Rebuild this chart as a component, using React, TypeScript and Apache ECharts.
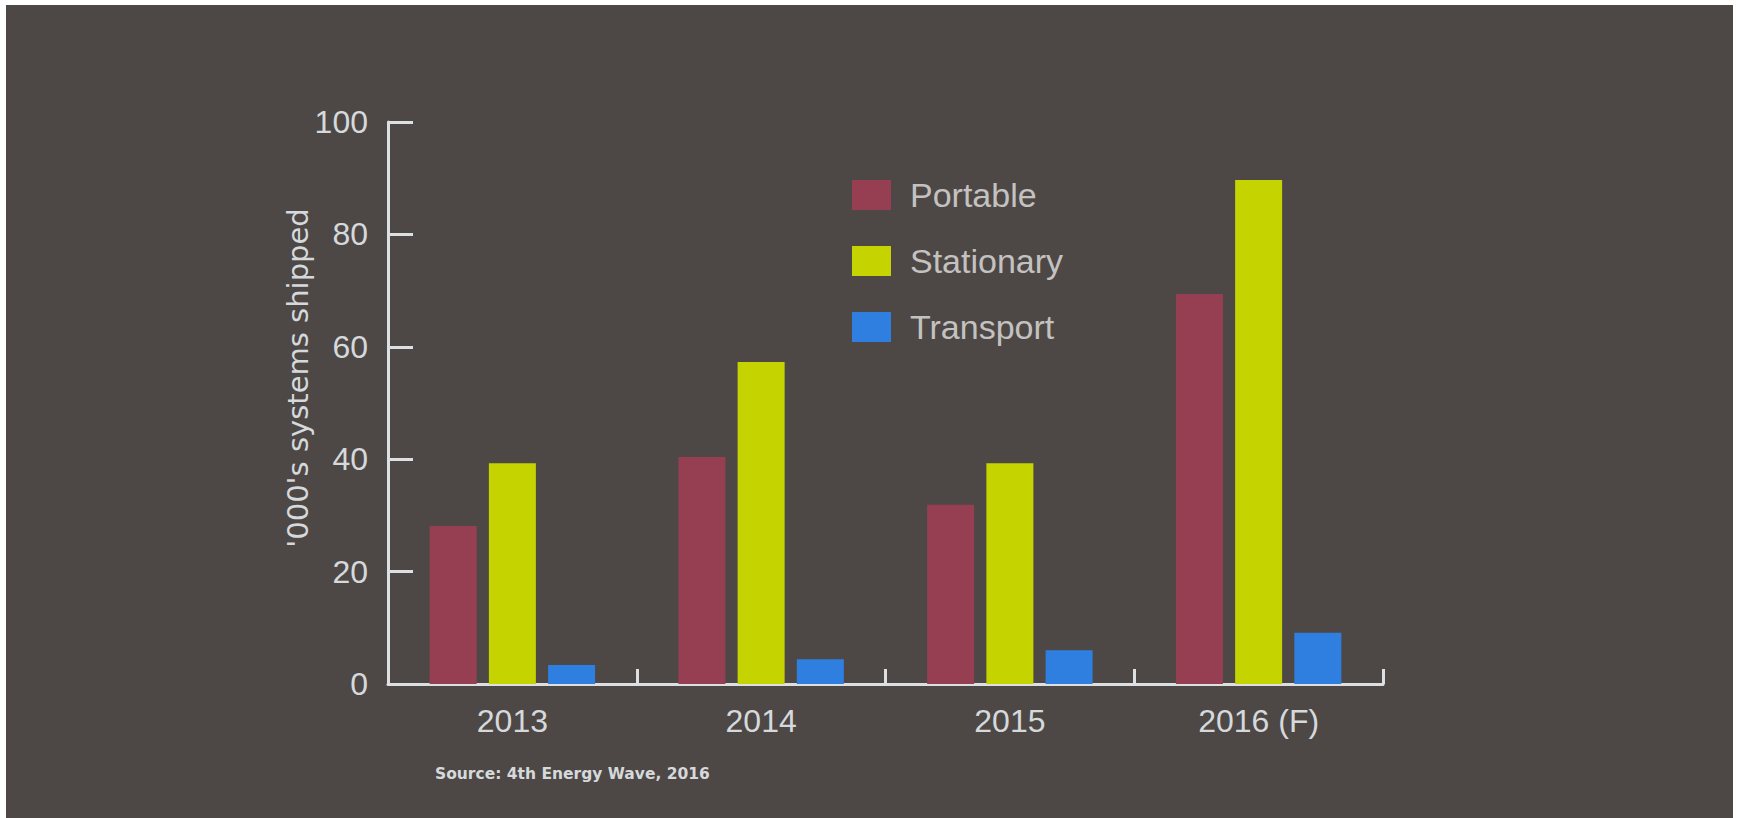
import React, { useEffect, useRef } from "react";
import * as echarts from "echarts";

const categories = ["2013", "2014", "2015", "2016 (F)"];
const portable = [28.1, 40.4, 31.9, 69.4];
const stationary = [39.3, 57.3, 39.3, 89.7];
const transport = [3.4, 4.4, 6.0, 9.1];
const yTicks = { min: 0, max: 100, interval: 20 };
const yTitle = "'000's systems shipped";
const sourceNote = "Source: 4th Energy Wave, 2016";

const BG = "#4D4845";
const AXIS = "#DCE0E3";
const LABEL = "#D6D9DC";

export default function App() {
  const ref = useRef<HTMLDivElement>(null);
  useEffect(() => {
    if (!ref.current) return;
    const chart = echarts.init(ref.current, null, { renderer: "svg" });
    chart.setOption({
      animation: false,
      backgroundColor: BG,
      grid: { left: 382, right: 350, top: 117, bottom: 134, containLabel: false },
      legend: {
        orient: "vertical",
        left: 846,
        top: 173,
        padding: 0,
        icon: "rect",
        itemWidth: 39,
        itemHeight: 30,
        itemGap: 32,
        selectedMode: false,
        textStyle: {
          color: "#C4C2C0",
          fontSize: 34,
          fontFamily: "'Liberation Sans', sans-serif",
          padding: [0, 0, 0, 14],
        },
        data: ["Portable", "Stationary", "Transport"],
      },
      xAxis: {
        type: "category",
        data: categories,
        axisLine: { show: true, lineStyle: { color: AXIS, width: 3 } },
        axisTick: {
          show: true,
          inside: true,
          length: 15,
          alignWithLabel: false,
          interval: 0,
          lineStyle: { color: AXIS, width: 3 },
        },
        axisLabel: {
          color: LABEL,
          fontSize: 32,
          fontFamily: "'Liberation Sans', sans-serif",
          margin: 21,
          interval: 0,
        },
      },
      yAxis: {
        type: "value",
        min: yTicks.min,
        max: yTicks.max,
        interval: yTicks.interval,
        splitLine: { show: false },
        axisLine: { show: true, lineStyle: { color: AXIS, width: 3 } },
        axisTick: {
          show: true,
          inside: true,
          length: 25,
          lineStyle: { color: AXIS, width: 3 },
        },
        axisLabel: {
          color: LABEL,
          fontSize: 32,
          fontFamily: "'Liberation Sans', sans-serif",
          margin: 20,
        },
      },
      series: [
        { name: "Portable", type: "bar", data: portable, barWidth: 47, barGap: "26%", itemStyle: { color: "#963F53" } },
        { name: "Stationary", type: "bar", data: stationary, barWidth: 47, barGap: "26%", itemStyle: { color: "#C5D400" } },
        { name: "Transport", type: "bar", data: transport, barWidth: 47, barGap: "26%", itemStyle: { color: "#2F7FE0" } },
      ],
      graphic: [
        {
          type: "text",
          x: 292,
          y: 373,
          rotation: Math.PI / 2,
          style: {
            text: yTitle,
            fill: LABEL,
            fontSize: 29,
            fontFamily: "'DejaVu Sans', sans-serif",
            align: "center",
            verticalAlign: "middle",
          },
        },
        {
          type: "text",
          x: 429,
          y: 769,
          style: {
            text: sourceNote,
            fill: LABEL,
            fontSize: 15.5,
            fontWeight: "bold",
            fontFamily: "'DejaVu Sans', sans-serif",
            align: "left",
            verticalAlign: "middle",
          },
        },
      ],
    });
    return () => chart.dispose();
  }, []);
  return (
    <div style={{ position: "fixed", left: 0, top: 0, width: 1740, height: 818, background: "#FFFFFF" }}>
      <div ref={ref} style={{ position: "absolute", left: 6, top: 5, width: 1727, height: 813 }} />
    </div>
  );
}
